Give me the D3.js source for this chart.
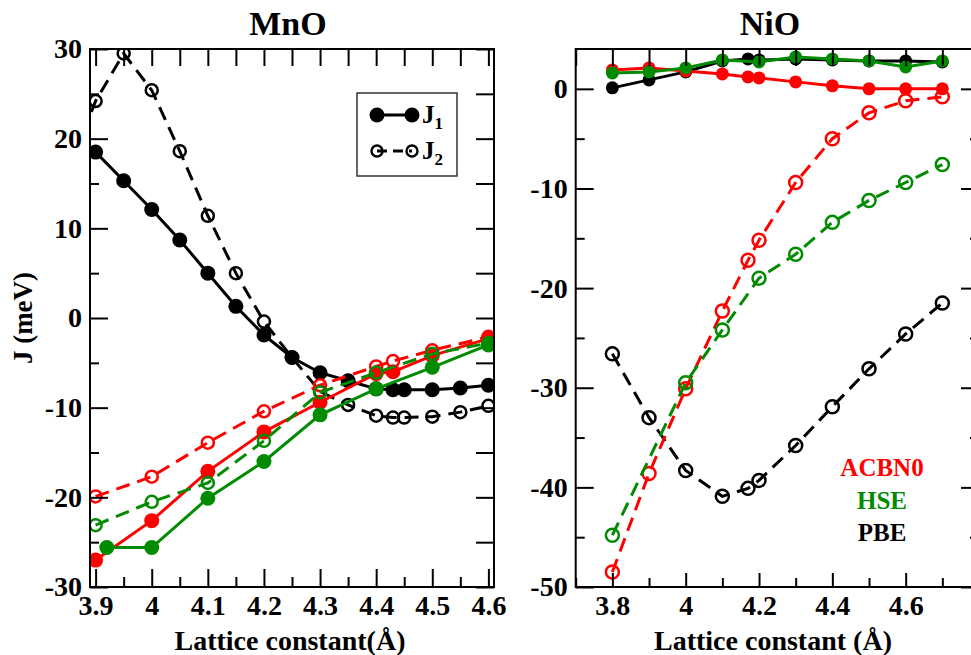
<!DOCTYPE html>
<html>
<head>
<meta charset="utf-8">
<script src="https://cdn.jsdelivr.net/npm/d3@7"></script>
<style>
  body { margin: 0; background: #fff; }
  svg { display: block; }
  text { font-family: 'Liberation Serif', 'Times New Roman', serif; font-weight: bold; }
</style>
</head>
<body>
<svg id="chart" width="971" height="655"></svg>
<script>
// ---- MnO data (lattice constant in A, J in meV) ----
var mnoPbeX1 = [3.9, 3.95, 4.0, 4.05, 4.1, 4.15, 4.2, 4.25, 4.3, 4.35, 4.4, 4.43, 4.45, 4.5, 4.55, 4.6]
var mnoPbeJ1 = [18.5, 15.3, 12.1, 8.7, 5.0, 1.3, -1.9, -4.4, -6.1, -7.0, -7.9, -8.0, -8.0, -8.0, -7.8, -7.5]
var mnoPbeX2 = [3.85, 3.9, 3.95, 4.0, 4.05, 4.1, 4.15, 4.2, 4.25, 4.3, 4.35, 4.4, 4.43, 4.45, 4.5, 4.55, 4.6]
var mnoPbeJ2 = [16.1, 24.2, 29.5, 25.4, 18.6, 11.4, 5.0, -0.4, -4.4, -8.2, -9.7, -10.9, -11.1, -11.1, -11.0, -10.5, -9.8]
var mnoAcbX = [3.9, 4.0, 4.1, 4.2, 4.3, 4.4, 4.43, 4.5, 4.6]
var mnoAcbJ1 = [-27.0, -22.6, -17.1, -12.7, -9.4, -6.2, -6.0, -4.2, -2.3]
var mnoAcbJ2 = [-19.9, -17.7, -13.9, -10.4, -7.5, -5.4, -4.8, -3.6, -2.1]
var mnoHseX1 = [3.92, 4.0, 4.1, 4.2, 4.3, 4.4, 4.5, 4.6]
var mnoHseJ1 = [-25.6, -25.6, -20.1, -16.0, -10.8, -7.9, -5.5, -3.0]
var mnoHseX2 = [3.9, 4.0, 4.1, 4.2, 4.3, 4.4, 4.5, 4.6]
var mnoHseJ2 = [-23.1, -20.5, -18.4, -13.7, -8.3, -6.1, -4.0, -2.8]

// ---- NiO data ----
var nioX = [3.8, 3.9, 4.0, 4.1, 4.17, 4.2, 4.3, 4.4, 4.5, 4.6, 4.7]
var nioPbeJ1 = [0.1, 0.9, 1.7, 2.8, 3.0, 2.9, 3.0, 2.9, 2.8, 2.8, 2.7]
var nioPbeJ2 = [-26.6, -33.0, -38.3, -40.9, -40.1, -39.3, -35.8, -31.9, -28.1, -24.6, -21.5]
var nioAcbJ1 = [1.9, 2.1, 1.8, 1.5, 1.2, 1.1, 0.7, 0.3, 0.0, 0.0, 0.0]
var nioAcbJ2 = [-48.5, -38.6, -30.1, -22.3, -17.2, -15.2, -9.4, -5.0, -2.4, -1.2, -0.8]
var nioHseX1 = [3.8, 3.9, 4.0, 4.1, 4.2, 4.3, 4.4, 4.5, 4.6, 4.7]
var nioHseJ1 = [1.6, 1.7, 2.1, 2.9, 2.7, 3.2, 3.0, 2.8, 2.2, 2.8]
var nioHseX2 = [3.8, 4.0, 4.1, 4.2, 4.3, 4.4, 4.5, 4.6, 4.7]
var nioHseJ2 = [-44.8, -29.5, -24.2, -19.0, -16.6, -13.4, -11.2, -9.4, -7.6]

// ---- ticks ----
var mnoXTicks = [3.9, 4.0, 4.1, 4.2, 4.3, 4.4, 4.5, 4.6]
var mnoXMinor = [3.95, 4.05, 4.15, 4.25, 4.35, 4.45, 4.55]
var mnoYTicks = [-30, -20, -10, 0, 10, 20, 30]
var mnoYMinor = [-25, -15, -5, 5, 15, 25]
var nioXTicks = [3.8, 4.0, 4.2, 4.4, 4.6]
var nioXMinor = [3.7, 3.9, 4.1, 4.3, 4.5, 4.7]
var nioYTicks = [-50, -40, -30, -20, -10, 0]
var nioYMinor = [-45, -35, -25, -15, -5]

var methodNames = ['ACBN0', 'HSE', 'PBE']
var colours = { PBE: '#000000', ACBN0: '#ff0000', HSE: '#008b00' }

var svg = d3.select('#chart')
var plotTop = 49
var plotBottom = 587
var fmt = function (d) { return String(+d.toFixed(2)) }

function zip (xs, ys) { return xs.map(function (v, i) { return [v, ys[i]] }) }

function drawPanel (cfg) {
  var x = d3.scaleLinear().domain(cfg.xDomain).range([cfg.left, cfg.right])
  var y = d3.scaleLinear().domain(cfg.yDomain).range([plotBottom, plotTop])
  var g = svg.append('g')

  g.append('clipPath').attr('id', cfg.id + '-clip')
    .append('rect')
    .attr('x', cfg.left).attr('y', plotTop)
    .attr('width', cfg.right - cfg.left).attr('height', plotBottom - plotTop)

  var plot = g.append('g').attr('clip-path', 'url(#' + cfg.id + '-clip)')
  var line = d3.line().x(function (d) { return x(d[0]) }).y(function (d) { return y(d[1]) })

  cfg.series.forEach(function (s) {
    var pts = zip(s.x, s.y)
    var c = colours[s.method]
    plot.append('path')
      .datum(pts)
      .attr('d', line)
      .attr('fill', 'none')
      .attr('stroke', c)
      .attr('stroke-width', 3)
      .attr('stroke-dasharray', s.j === 2 ? '14,8' : null)
    plot.selectAll(null)
      .data(pts)
      .enter().append('circle')
      .attr('cx', function (d) { return x(d[0]) })
      .attr('cy', function (d) { return y(d[1]) })
      .attr('r', s.j === 1 ? cfg.rFilled : cfg.rOpen)
      .attr('fill', s.j === 1 ? c : 'none')
      .attr('stroke', c)
      .attr('stroke-width', s.j === 1 ? 0 : 2.5)
  })

  // axes, ticks pointing inwards
  function style (sel) {
    sel.select('.domain').remove()
    sel.selectAll('line').attr('stroke', '#000').attr('stroke-width', 2)
    sel.selectAll('text').attr('fill', '#000').style('font-size', '28px')
  }
  g.append('g').attr('transform', 'translate(0,' + plotBottom + ')')
    .call(d3.axisBottom(x).tickValues(cfg.xTicks).tickFormat(fmt).tickSizeInner(-cfg.xMajor).tickSizeOuter(0).tickPadding(8))
    .call(style)
  g.append('g').attr('transform', 'translate(0,' + plotBottom + ')')
    .call(d3.axisBottom(x).tickValues(cfg.xMinor).tickFormat('').tickSizeInner(-cfg.xMinorLen).tickSizeOuter(0))
    .call(style)
  g.append('g').attr('transform', 'translate(0,' + plotTop + ')')
    .call(d3.axisTop(x).tickValues(cfg.xTop).tickFormat('').tickSizeInner(-17).tickSizeOuter(0))
    .call(style)
  g.append('g').attr('transform', 'translate(' + cfg.left + ',0)')
    .call(d3.axisLeft(y).tickValues(cfg.yTicks).tickFormat(fmt).tickSizeInner(-18).tickSizeOuter(0).tickPadding(8))
    .call(style)
  g.append('g').attr('transform', 'translate(' + cfg.left + ',0)')
    .call(d3.axisLeft(y).tickValues(cfg.yMinor).tickFormat('').tickSizeInner(-9).tickSizeOuter(0))
    .call(style)
  g.append('g').attr('transform', 'translate(' + cfg.right + ',0)')
    .call(d3.axisRight(y).tickValues(cfg.yTicks).tickFormat('').tickSizeInner(-18).tickSizeOuter(0))
    .call(style)
  g.append('g').attr('transform', 'translate(' + cfg.right + ',0)')
    .call(d3.axisRight(y).tickValues(cfg.yMinor).tickFormat('').tickSizeInner(-cfg.rightMinor).tickSizeOuter(0))
    .call(style)

  g.append('rect')
    .attr('x', cfg.left).attr('y', plotTop)
    .attr('width', cfg.right - cfg.left).attr('height', plotBottom - plotTop)
    .attr('fill', 'none').attr('stroke', '#000').attr('stroke-width', 2)

  g.append('text')
    .attr('x', cfg.titleX).attr('y', 35)
    .attr('text-anchor', 'middle')
    .style('font-size', '34px')
    .text(cfg.title)

  g.append('text')
    .attr('x', cfg.xLabelX).attr('y', 650)
    .attr('text-anchor', 'middle')
    .style('font-size', '28px')
    .text(cfg.xLabel)

  return { x: x, y: y, g: g }
}

var mno = drawPanel({
  id: 'mno',
  left: 90,
  right: 494,
  xDomain: [3.89, 4.61],
  yDomain: [-30, 30],
  xTicks: mnoXTicks,
  xMinor: mnoXMinor,
  xTop: mnoXTicks.concat(mnoXMinor),
  yTicks: mnoYTicks,
  yMinor: mnoYMinor,
  xMajor: 18,
  xMinorLen: 10,
  rightMinor: 18,
  rFilled: 7.5,
  rOpen: 6,
  title: 'MnO',
  titleX: 288,
  xLabel: 'Lattice constant(\u00C5)',
  xLabelX: 290,
  series: [
    { method: 'PBE', j: 1, x: mnoPbeX1, y: mnoPbeJ1 },
    { method: 'PBE', j: 2, x: mnoPbeX2, y: mnoPbeJ2 },
    { method: 'ACBN0', j: 1, x: mnoAcbX, y: mnoAcbJ1 },
    { method: 'ACBN0', j: 2, x: mnoAcbX, y: mnoAcbJ2 },
    { method: 'HSE', j: 1, x: mnoHseX1, y: mnoHseJ1 },
    { method: 'HSE', j: 2, x: mnoHseX2, y: mnoHseJ2 }
  ]
})

var nio = drawPanel({
  id: 'nio',
  left: 575.7,
  right: 979,
  xDomain: [3.7, 4.8],
  yDomain: [-50, 4],
  xTicks: nioXTicks,
  xMinor: nioXMinor,
  xTop: nioXTicks.concat(nioXMinor),
  yTicks: nioYTicks,
  yMinor: nioYMinor,
  xMajor: 14,
  xMinorLen: 9,
  rightMinor: 9,
  rFilled: 6.5,
  rOpen: 6.5,
  title: 'NiO',
  titleX: 770,
  xLabel: 'Lattice constant (\u00C5)',
  xLabelX: 773,
  series: [
    { method: 'PBE', j: 1, x: nioX, y: nioPbeJ1 },
    { method: 'PBE', j: 2, x: nioX, y: nioPbeJ2 },
    { method: 'ACBN0', j: 1, x: nioX, y: nioAcbJ1 },
    { method: 'ACBN0', j: 2, x: nioX, y: nioAcbJ2 },
    { method: 'HSE', j: 1, x: nioHseX1, y: nioHseJ1 },
    { method: 'HSE', j: 2, x: nioHseX2, y: nioHseJ2 }
  ]
})

// y axis title, only on the left panel
svg.append('text')
  .attr('transform', 'translate(32,318) rotate(-90)')
  .attr('text-anchor', 'middle')
  .style('font-size', '27px')
  .text('J (meV)')

// J1 / J2 legend in MnO panel
var leg = svg.append('g')
leg.append('rect')
  .attr('x', 357).attr('y', 93).attr('width', 100).attr('height', 83)
  .attr('fill', '#fff').attr('stroke', '#333').attr('stroke-width', 1.5)
var legRows = [{ j: 1, y: 115 }, { j: 2, y: 151 }]
legRows.forEach(function (r) {
  leg.append('line')
    .attr('x1', 377).attr('x2', 412).attr('y1', r.y).attr('y2', r.y)
    .attr('stroke', '#000').attr('stroke-width', 2.8)
    .attr('stroke-dasharray', r.j === 2 ? '10,6' : null)
  ;[377, 412].forEach(function (cx) {
    leg.append('circle')
      .attr('cx', cx).attr('cy', r.y)
      .attr('r', r.j === 1 ? 7.5 : 5.5)
      .attr('fill', r.j === 1 ? '#000' : 'none')
      .attr('stroke', '#000').attr('stroke-width', r.j === 1 ? 0 : 2.4)
  })
  var t = leg.append('text')
    .attr('x', 422).attr('y', r.y + 8)
    .style('font-size', '25px')
  t.append('tspan').text('J')
  t.append('tspan').attr('dy', 6).style('font-size', '17px').text(r.j)
})

// method labels in NiO panel
svg.append('g').selectAll('text')
  .data(methodNames)
  .enter().append('text')
  .attr('x', 882)
  .attr('y', function (d, i) { return 476 + i * 32.5 })
  .attr('text-anchor', 'middle')
  .style('font-size', '25px')
  .attr('fill', function (d) { return colours[d] })
  .text(function (d) { return d })
</script>
</body>
</html>
